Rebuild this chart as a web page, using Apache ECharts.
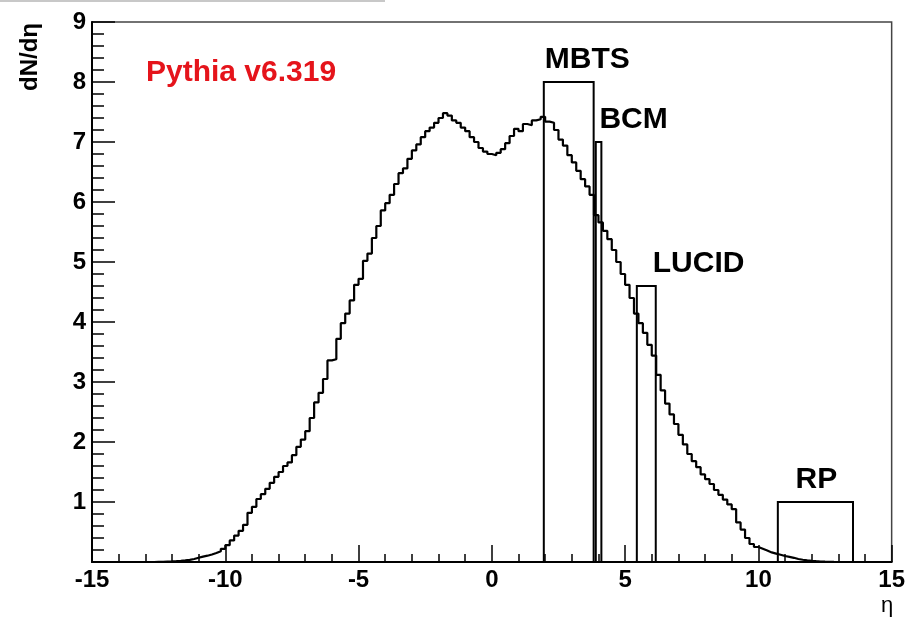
<!DOCTYPE html>
<html><head><meta charset="utf-8">
<script src="https://cdn.jsdelivr.net/npm/echarts@6/dist/echarts.min.js"></script>
<style>html,body{margin:0;padding:0;background:#fff}#c{width:908px;height:620px}</style>
</head><body><div id="c"></div>
<script>
// ---- data ----
const etaMin = -15;
const etaMax = 15;
const binWidth = 1 / 6;
const dNdEta = [
  0,0,0,0,0,0, 0,0,0,0,0,0,
  0,0,0.002,0.004,0.007,0.01,
  0.014,0.019,0.026,0.036,0.05,0.07,
  0.09,0.105,0.125,0.15,0.18,0.22,
  0.28,0.36,0.44,0.52,0.62,0.82,
  0.92,1.05,1.13,1.22,1.32,1.42,
  1.5,1.6,1.66,1.78,1.92,2.04,
  2.18,2.4,2.66,2.82,3.05,3.36,
  3.38,3.72,3.98,4.14,4.36,4.62,
  4.72,5.02,5.14,5.4,5.6,5.86,
  5.98,6.12,6.3,6.48,6.56,6.72,
  6.86,6.96,7.08,7.18,7.24,7.32,
  7.4,7.48,7.44,7.36,7.32,7.24,
  7.18,7.08,7.0,6.9,6.84,6.8,
  6.78,6.82,6.88,6.98,7.1,7.22,
  7.18,7.3,7.28,7.36,7.38,7.42,
  7.34,7.32,7.2,7.04,6.94,6.78,
  6.66,6.52,6.38,6.26,6.12,5.78,
  5.66,5.52,5.38,5.2,5.0,4.8,
  4.62,4.4,4.14,3.98,3.82,3.62,
  3.44,3.12,2.86,2.64,2.46,2.3,
  2.12,1.96,1.8,1.68,1.58,1.46,
  1.38,1.3,1.2,1.12,1.04,0.96,
  0.88,0.66,0.54,0.4,0.3,0.25,
  0.22,0.19,0.16,0.14,0.12,0.1,
  0.085,0.07,0.05,0.038,0.028,0.02,
  0.013,0.008,0.005,0.003,0.001,0,
  0,0,0,0,0,0, 0,0,0,0,0,0
];
const detectorNames = ['MBTS', 'BCM', 'LUCID', 'RP'];
const detectorEtaLo = [1.95, 3.90, 5.44, 10.73];
const detectorEtaHi = [3.82, 4.11, 6.15, 13.55];
const detectorHeight = [8, 7, 4.6, 1];
const generatorLabel = 'Pythia v6.319';
const xAxisTitle = 'η';
const yAxisTitle = 'dN/dη';

// ---- build ----
const FONT = "'Liberation Sans', Arial, Helvetica, sans-serif";
const histData = dNdEta.map((v, k) => [etaMin + k * binWidth, v]);
histData.push([etaMax, dNdEta[dNdEta.length - 1]]);
const detData = detectorNames.map((n, i) => [detectorEtaLo[i], detectorEtaHi[i], detectorHeight[i], i]);
const labelLayout = [
  { anchor: 'lo', align: 'left', dx: 1 },
  { anchor: 'hi', align: 'left', dx: -2 },
  { anchor: 'hi', align: 'left', dx: -3 },
  { anchor: 'mid', align: 'center', dx: 1 }
];

const chart = echarts.init(document.getElementById('c'), null, { renderer: 'canvas' });
chart.setOption({
  animation: false,
  backgroundColor: '#fff',
  grid: { left: 92, right: 15, top: 22, bottom: 58, show: true, borderColor: '#444', borderWidth: 1.5, backgroundColor: 'transparent' },
  xAxis: {
    type: 'value', min: etaMin, max: etaMax, interval: 5,
    axisLine: { show: true, onZero: false, lineStyle: { color: '#000', width: 2 } },
    axisTick: { show: true, inside: true, length: 17, lineStyle: { color: '#000', width: 1.5 } },
    minorTick: { show: true, splitNumber: 5, length: 8, lineStyle: { color: '#000', width: 1.5 } },
    splitLine: { show: false },
    axisLabel: { color: '#000', fontFamily: FONT, fontWeight: 'bold', fontSize: 24, margin: 6 }
  },
  yAxis: {
    type: 'value', min: 0, max: 9, interval: 1,
    axisLine: { show: true, onZero: false, lineStyle: { color: '#000', width: 2 } },
    axisTick: { show: true, inside: true, length: 23, lineStyle: { color: '#000', width: 1.5 } },
    minorTick: { show: true, splitNumber: 5, length: 12, lineStyle: { color: '#000', width: 1.5 } },
    splitLine: { show: false },
    axisLabel: { color: '#000', fontFamily: FONT, fontWeight: 'bold', fontSize: 24, margin: 6,
      formatter: v => (v === 0 ? '' : String(v)) }
  },
  graphic: [
    { type: 'rect', shape: { x: 0, y: 0, width: 385, height: 2 }, style: { fill: '#c8c8c8' } },
    { type: 'text', x: 146, y: 73, style: { text: generatorLabel, fill: '#e5141b', fontFamily: FONT, fontWeight: 'bold', fontSize: 30, align: 'left', verticalAlign: 'middle' } },
    { type: 'text', x: 30, y: 57, rotation: Math.PI / 2, style: { text: yAxisTitle, fill: '#000', fontFamily: FONT, fontWeight: 'bold', fontSize: 24, align: 'center', verticalAlign: 'middle' } },
    { type: 'text', x: 887, y: 606, style: { text: xAxisTitle, fill: '#000', fontFamily: FONT, fontSize: 22, align: 'center', verticalAlign: 'middle' } }
  ],
  series: [
    {
      type: 'line', data: histData, step: 'end', showSymbol: false, symbol: 'none',
      lineStyle: { color: '#000', width: 2.2 }, z: 3, clip: true
    },
    {
      type: 'custom', data: detData, z: 4, clip: false,
      encode: { x: [0, 1], y: 2 },
      renderItem: function (params, api) {
        const lo = api.value(0), hi = api.value(1), h = api.value(2), i = api.value(3);
        const p0 = api.coord([lo, 0]), p1 = api.coord([lo, h]), p2 = api.coord([hi, h]), p3 = api.coord([hi, 0]);
        const lay = labelLayout[i];
        let tx = lay.anchor === 'lo' ? p1[0] : (lay.anchor === 'hi' ? p2[0] : (p1[0] + p2[0]) / 2);
        tx += lay.dx;
        return {
          type: 'group',
          children: [
            { type: 'polyline', shape: { points: [p0, p1, p2, p3] }, style: { stroke: '#000', lineWidth: 2, fill: 'none' } },
            { type: 'text', x: tx, y: p1[1] - 22, style: { text: detectorNames[i], fill: '#000', fontFamily: FONT, fontWeight: 'bold', fontSize: 30, align: lay.align, verticalAlign: 'middle' } }
          ]
        };
      }
    }
  ]
});
</script>
</body></html>
